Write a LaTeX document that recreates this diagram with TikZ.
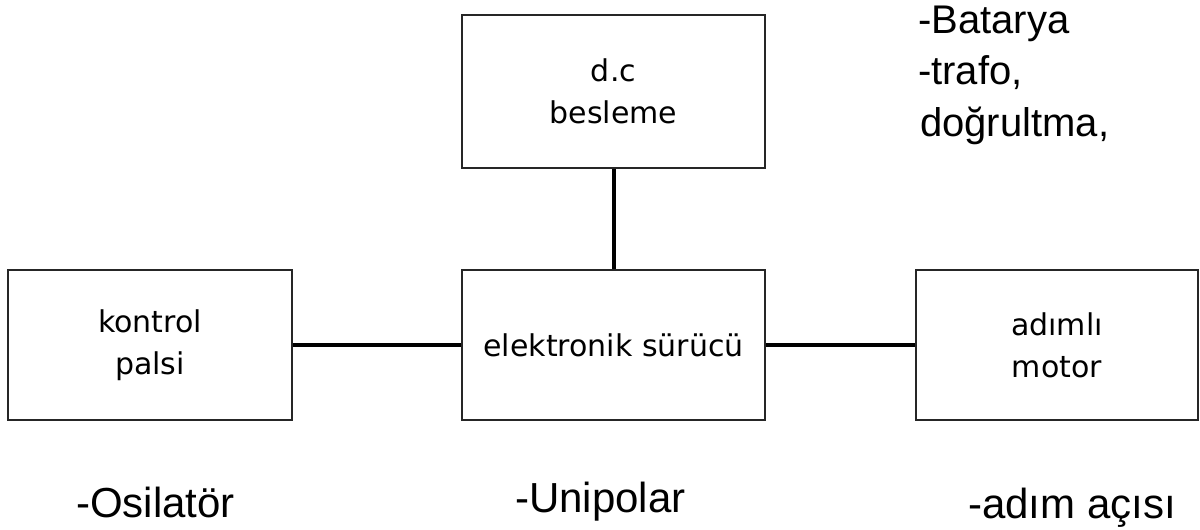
\documentclass[tikz,border=0pt]{standalone}
\usepackage{fontspec}
\setmainfont{Liberation Sans}
\newfontfamily\boxfont{DejaVu Sans}
\begin{document}
\begin{tikzpicture}[x=1pt,y=-1pt,
  blockbox/.style={draw=black!85,line width=2pt,fill=white,inner sep=0pt,align=center,
    font=\boxfont\fontsize{30}{42}\selectfont},
  wire/.style={line width=4pt,black},
  lbl/.style={inner sep=0pt,anchor=base west,font=\fontsize{42}{50}\selectfont},
  toplbl/.style={inner sep=0pt,anchor=base west,font=\fontsize{40}{50}\selectfont}]
\useasboundingbox[fill=white] (0,0) rectangle (1200,530);
\node[blockbox,minimum width=303pt,minimum height=153pt] (dc) at (613.5,91.5) {d.c\\besleme};
\node[blockbox,minimum width=284pt,minimum height=150pt] (kp) at (150,345) {kontrol\\palsi};
\node[blockbox,minimum width=303pt,minimum height=150pt] (es) at (613.5,345) {elektronik sürücü};
\node[blockbox,minimum width=282pt,minimum height=150pt] (am) at (1057,345) {adımlı\\motor};
\draw[wire] (dc.south) -- (es.north);
\draw[wire] (kp.east) -- (es.west);
\draw[wire] (es.east) -- (am.west);
\node[toplbl] (t1) at (918,33) {-Batarya};
\node[toplbl] (t2) at (918,84) {-trafo,};
\node[toplbl] (t3) at (920,136) {doğrultma,};
\node[lbl] (b1) at (76,517) {-Osilatör};
\node[lbl] (b2) at (515,512) {-Unipolar};
\node[lbl] (b3) at (968,518) {-adım açısı};
\end{tikzpicture}
\end{document}
